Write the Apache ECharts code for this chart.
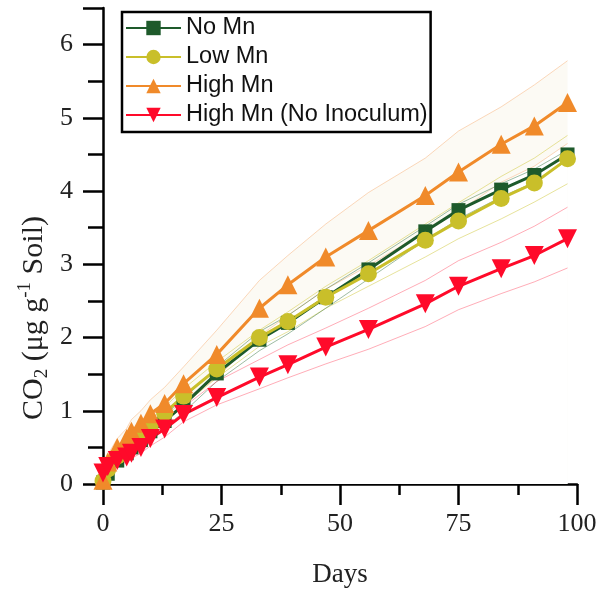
<!DOCTYPE html>
<html>
<head>
<meta charset="utf-8">
<script src="https://cdn.jsdelivr.net/npm/echarts@6/dist/echarts.min.js"></script>
<style>
  html, body { margin: 0; padding: 0; background: #fff; }
  #chart { width: 606px; height: 594px; }
</style>
</head>
<body>
<div id="chart"></div>
<script>
// sampling days
const days = [0, 1, 3, 5, 6, 8, 10, 13, 17, 24, 33, 39, 47, 56, 68, 75, 84, 91, 98];

// mean CO2 (ug g-1 soil)
const noMn = [0.02, 0.14, 0.32, 0.42, 0.5, 0.6, 0.72, 0.86, 1.08, 1.51, 1.97, 2.2, 2.55, 2.93, 3.45, 3.74, 4.02, 4.22, 4.5];
const lowMn = [0.04, 0.2, 0.38, 0.48, 0.57, 0.68, 0.8, 0.97, 1.2, 1.57, 2.0, 2.22, 2.55, 2.87, 3.33, 3.59, 3.9, 4.11, 4.44];
const highMn = [0.05, 0.3, 0.5, 0.62, 0.72, 0.83, 0.96, 1.1, 1.37, 1.77, 2.4, 2.72, 3.1, 3.46, 3.94, 4.26, 4.64, 4.89, 5.21];
const highMnNoInoc = [0.15, 0.24, 0.32, 0.37, 0.42, 0.5, 0.62, 0.75, 0.95, 1.18, 1.46, 1.63, 1.87, 2.11, 2.46, 2.7, 2.94, 3.12, 3.35];

// error band limits
const noMnHi = [0.04, 0.18, 0.37, 0.48, 0.56, 0.66, 0.79, 0.94, 1.16, 1.6, 2.08, 2.3, 2.66, 3.02, 3.52, 3.82, 4.1, 4.3, 4.56];
const noMnLo = [0.01, 0.1, 0.26, 0.36, 0.44, 0.53, 0.64, 0.77, 0.98, 1.4, 1.82, 2.05, 2.4, 2.8, 3.33, 3.62, 3.92, 4.12, 4.42];
const lowMnHi = [0.06, 0.26, 0.45, 0.56, 0.65, 0.76, 0.88, 1.05, 1.3, 1.67, 2.1, 2.35, 2.7, 3.05, 3.55, 3.84, 4.2, 4.45, 4.76];
const lowMnLo = [0.02, 0.15, 0.3, 0.4, 0.48, 0.58, 0.7, 0.85, 1.08, 1.45, 1.88, 2.08, 2.4, 2.7, 3.1, 3.35, 3.62, 3.85, 4.1];
const highMnHi = [0.1, 0.4, 0.62, 0.76, 0.88, 1.0, 1.15, 1.32, 1.6, 2.1, 2.78, 3.12, 3.55, 3.98, 4.45, 4.82, 5.15, 5.45, 5.78];
const highMnLo = [0.02, 0.22, 0.4, 0.5, 0.58, 0.68, 0.78, 0.9, 1.15, 1.45, 2.02, 2.3, 2.66, 2.98, 3.45, 3.72, 4.12, 4.34, 4.65];
const noInocHi = [0.2, 0.3, 0.38, 0.44, 0.5, 0.58, 0.7, 0.86, 1.05, 1.4, 1.7, 1.9, 2.13, 2.4, 2.78, 3.05, 3.3, 3.52, 3.78];
const noInocLo = [0.1, 0.18, 0.26, 0.3, 0.35, 0.42, 0.52, 0.64, 0.85, 1.08, 1.3, 1.45, 1.64, 1.84, 2.15, 2.38, 2.6, 2.76, 2.95];

const names = ['No Mn', 'Low Mn', 'High Mn', 'High Mn (No Inoculum)'];

const pairs = arr => arr.map((v, i) => [days[i], v]);

// thin limit line; fill (if given) goes down to the x axis
function limit(id, data, color, fill, z) {
  const s = {
    name: id, type: 'line', data: pairs(data),
    symbol: 'none', silent: true, z: z,
    lineStyle: { color: color, width: 1, opacity: 0.5 }
  };
  if (fill) s.areaStyle = { color: fill, opacity: 1 };
  return s;
}

function mean(name, data, color, symbol, size, rotate) {
  return {
    name: name, type: 'line', data: pairs(data), z: 3,
    symbol: symbol, symbolSize: size, symbolRotate: rotate || 0,
    lineStyle: { color: color, width: 3 },
    itemStyle: { color: color }
  };
}

const chart = echarts.init(document.getElementById('chart'));

chart.setOption({
  animation: false,
  grid: { left: 103, right: 29, top: 8, bottom: 110 },
  legend: {
    data: names,
    orient: 'vertical',
    left: 122, top: 12,
    padding: [4, 3, 5, 3],
    itemGap: 5,
    itemWidth: 55, itemHeight: 18,
    borderColor: '#000', borderWidth: 2.5,
    textStyle: { fontFamily: 'Liberation Sans', fontSize: 23.5, color: '#111' }
  },
  xAxis: {
    type: 'value', min: 0, max: 100, interval: 25,
    name: 'Days', nameLocation: 'middle', nameGap: 77,
    nameTextStyle: { fontFamily: 'Liberation Serif', fontSize: 27, color: '#222' },
    axisLine: { lineStyle: { color: '#000', width: 2.5 } },
    axisTick: { length: 21, lineStyle: { color: '#000', width: 2.5 } },
    minorTick: { show: true, splitNumber: 2, length: 11, lineStyle: { color: '#000', width: 2.5 } },
    axisLabel: { fontFamily: 'Liberation Serif', fontSize: 26, color: '#222', margin: 27 },
    splitLine: { show: false }
  },
  yAxis: {
    type: 'value', min: 0, max: 6.5, interval: 1,
    axisLine: { show: true, lineStyle: { color: '#000', width: 2.5 } },
    axisTick: { show: true, length: 20, lineStyle: { color: '#000', width: 2.5 } },
    minorTick: { show: true, splitNumber: 2, length: 15, lineStyle: { color: '#000', width: 2.5 } },
    axisLabel: {
      fontFamily: 'Liberation Serif', fontSize: 26, color: '#222', margin: 30,
      formatter: v => (Number.isInteger(v) ? String(v) : '')
    },
    splitLine: { show: false }
  },
  graphic: [{
    type: 'text',
    x: 34, y: 318,
    rotation: Math.PI / 2,
    style: {
      text: '{a|CO}{s|2}{a| (μg g}{p|-1}{a| Soil)}',
      align: 'center', verticalAlign: 'middle',
      fill: '#222',
      rich: {
        a: { fontFamily: 'Liberation Serif', fontSize: 30, lineHeight: 36, fill: '#222' },
        s: { fontFamily: 'Liberation Serif', fontSize: 19, lineHeight: 19, verticalAlign: 'bottom', fill: '#222' },
        p: { fontFamily: 'Liberation Serif', fontSize: 19, lineHeight: 19, verticalAlign: 'top', fill: '#222' }
      }
    }
  }],
  series: [
    // faint band for High Mn: upper filled, lower masks with white
    limit('highMnHi', highMnHi, '#f7b27a', '#fcfaf4', 1),
    limit('highMnLo', highMnLo, '#f7b27a', '#ffffff', 1),
    limit('lowMnHi', lowMnHi, '#cfc73a', null, 2),
    limit('lowMnLo', lowMnLo, '#cfc73a', null, 2),
    limit('noMnHi', noMnHi, '#3d7a48', null, 2),
    limit('noMnLo', noMnLo, '#3d7a48', null, 2),
    limit('noInocHi', noInocHi, '#ff5a70', null, 2),
    limit('noInocLo', noInocLo, '#ff5a70', null, 2),
    mean(names[0], noMn, '#1e5a2b', 'rect', 14),
    mean(names[1], lowMn, '#c9bf2a', 'circle', 17),
    mean(names[2], highMn, '#f08a2a', 'triangle', 19),
    mean(names[3], highMnNoInoc, '#ff0a2a', 'triangle', 19, 180)
  ]
});
</script>
</body>
</html>
